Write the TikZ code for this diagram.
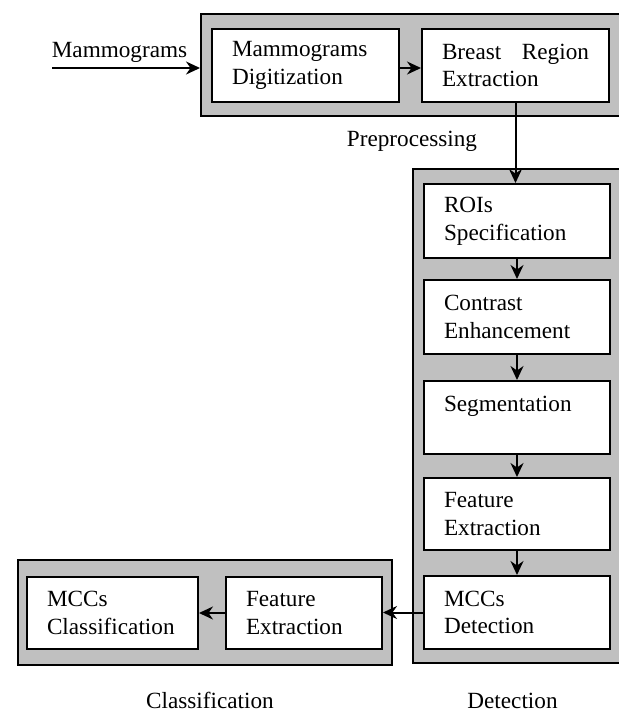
\documentclass[tikz,border=0pt]{standalone}
\usepackage{fontspec}
\setmainfont{Liberation Serif}
\usetikzlibrary{arrows.meta}
\definecolor{panelgray}{RGB}{192,192,192}

\begin{document}
\begin{tikzpicture}[
  x=0.5pt,y=-0.5pt,
  >={Stealth[length=7pt,width=6.5pt]},
  font=\rmfamily\fontsize{11.6}{13.8}\selectfont,
  panel/.style={draw,fill=panelgray,line width=0.8pt,anchor=north west,inner sep=0pt},
  stagebox/.style={draw,fill=white,line width=1pt,anchor=north west,align=left,
    inner xsep=10pt,inner ysep=0pt,minimum height=36.5pt,text width=73.5pt},
  flow/.style={->,line width=1pt}
]
  \useasboundingbox (0,0) rectangle (619,713);
  \clip (0,0) rectangle (619,713);

  % grey panels
  \node[panel,minimum width=230pt,minimum height=51pt] (prep) at (200,13) {};
  \node[panel,minimum width=120pt,minimum height=247pt] (detp) at (412,168) {};
  \node[panel,minimum width=187pt,minimum height=52.5pt] (clsp) at (17,559) {};

  % preprocessing
  \node[stagebox] (dig) at (211,28) {Mammograms\\Digitization};
  \node[stagebox] (reg) at (421,28) {Breast\hfill Region\\Extraction};

  % detection
  \node[stagebox,text width=73pt,minimum height=37pt] (roi) at (423,183) {ROIs\\Specification};
  \node[stagebox,text width=73pt,minimum height=37pt] (con) at (423,279) {Contrast\\Enhancement};
  \node[stagebox,text width=73pt] (seg) at (423,380) {Segmentation\\\mbox{}};
  \node[stagebox,text width=73pt,minimum height=36pt] (fea) at (423,477) {Feature\\Extraction};
  \node[stagebox,text width=73pt] (det) at (423,575) {MCCs\\Detection};

  % classification
  \node[stagebox,text width=65.5pt,minimum height=36pt] (cls) at (26,576) {MCCs\\Classification};
  \node[stagebox,text width=58pt,minimum height=36pt] (fex) at (225,576) {Feature\\Extraction};

  % labels
  \node[anchor=base] (mamlabel) at (119.5,57) {Mammograms};
  \node[anchor=base] (preplabel) at (412,146) {Preprocessing};
  \node[anchor=base] (clslabel) at (210,708) {Classification};
  \node[anchor=base] (detlabel) at (512.5,708) {Detection};

  \coordinate (input) at (52,68);

  \draw[flow] (input) -- (input -| prep.west);
  \draw[flow] (dig.east |- input) -- (reg.west |- input);
  \draw[flow] (reg.south) -- (reg.south |- roi.north);
  \draw[flow] (roi) -- (con);
  \draw[flow] (con) -- (seg);
  \draw[flow] (seg) -- (fea);
  \draw[flow] (fea) -- (det);
  \draw[flow] (det.west) -- (fex.east |- det.west);
  \draw[flow] (fex) -- (cls);
\end{tikzpicture}
\end{document}
